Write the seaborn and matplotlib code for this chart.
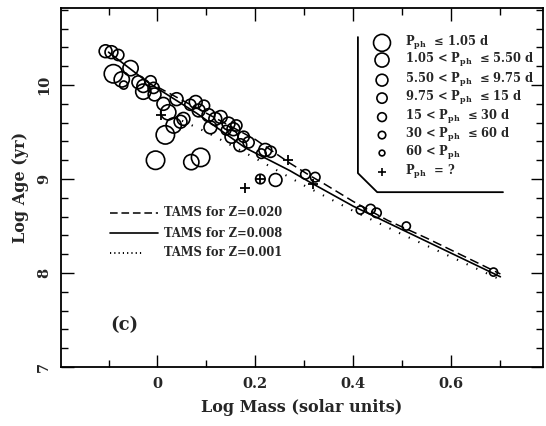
import numpy as np
import pandas as pd
import matplotlib
matplotlib.use("Agg")
import matplotlib.pyplot as plt
import seaborn as sns
from matplotlib.ticker import MultipleLocator

# ---------------- data ----------------
# circles: log mass, log age, period class (1 = shortest period, largest symbol)
circ_x = [-0.106, -0.094, -0.080, -0.090, -0.073, -0.055, -0.069, -0.039, -0.029, -0.014,
          -0.029, -0.006, -0.008,
          0.012, 0.039, 0.022, 0.047, 0.053, 0.033, 0.016, 0.078, 0.084, 0.104,
          0.118, 0.129, 0.108, 0.145, 0.155, 0.161, 0.151, 0.176, 0.186, 0.169,
          0.220, 0.231, 0.212, 0.067, 0.095, 0.140,
          -0.004, 0.069, 0.088, 0.210, 0.241, 0.302, 0.322, 0.414, 0.435, 0.447,
          0.508, 0.686]
circ_y = [10.36, 10.35, 10.32, 10.12, 10.06, 10.18, 10.00, 10.03, 9.99, 10.04,
          9.93, 9.90, 9.97,
          9.80, 9.85, 9.71, 9.61, 9.64, 9.57, 9.47, 9.82, 9.73, 9.68,
          9.64, 9.66, 9.55, 9.59, 9.53, 9.57, 9.45, 9.45, 9.39, 9.36,
          9.31, 9.29, 9.27, 9.79, 9.78, 9.52,
          9.20, 9.18, 9.23, 9.00, 8.99, 9.05, 9.02, 8.67, 8.68, 8.64,
          8.50, 8.01]
circ_cls = [3, 3, 4, 1, 2, 2, 6, 3, 3, 4,
            2, 3, 4,
            3, 3, 2, 3, 3, 2, 1, 3, 3, 3,
            3, 3, 3, 3, 3, 4, 3, 4, 4, 3,
            3, 4, 5, 4, 4, 5,
            1, 2, 1, 5, 3, 5, 5, 6, 5, 5,
            6, 6]

# unknown period (plus signs)
plus_x = [0.008, 0.178, 0.267, 0.318, 0.210]
plus_y = [9.68, 8.91, 9.20, 8.95, 9.00]

# TAMS lines
tams020_x = [0.00, 0.10, 0.20, 0.27, 0.31, 0.34, 0.40, 0.47, 0.55, 0.70]
tams020_y = [9.98, 9.70, 9.42, 9.17, 9.04, 8.95, 8.76, 8.56, 8.37, 7.99]
tams008_x = [-0.10, -0.02, 0.08, 0.18, 0.27, 0.31, 0.40, 0.50, 0.60, 0.70]
tams008_y = [10.35, 10.03, 9.70, 9.33, 9.09, 8.97, 8.71, 8.46, 8.21, 7.96]
tams001_x = [0.05, 0.10, 0.20, 0.30, 0.40, 0.50, 0.60, 0.70]
tams001_y = [9.62, 9.50, 9.22, 8.93, 8.66, 8.41, 8.17, 7.93]

legend_labels = [r"P$_{\rm ph}$  ≤ 1.05 d",
                 r"1.05 < P$_{\rm ph}$  ≤ 5.50 d",
                 r"5.50 < P$_{\rm ph}$  ≤ 9.75 d",
                 r"9.75 < P$_{\rm ph}$  ≤ 15 d",
                 r"15 < P$_{\rm ph}$  ≤ 30 d",
                 r"30 < P$_{\rm ph}$  ≤ 60 d",
                 r"60 < P$_{\rm ph}$",
                 r"P$_{\rm ph}$  = ?"]
line_labels = ["TAMS for Z=0.020", "TAMS for Z=0.008", "TAMS for Z=0.001"]

# ---------------- style ----------------
sns.set_style("ticks")
plt.rcParams['font.family'] = ['DejaVu Serif']
plt.rcParams['font.weight'] = 'bold'
plt.rcParams['mathtext.fontset'] = 'custom'
plt.rcParams['mathtext.rm'] = 'DejaVu Serif:bold'
plt.rcParams['mathtext.it'] = 'DejaVu Serif:bold'
plt.rcParams['mathtext.bf'] = 'DejaVu Serif:bold'

size_map = {1: 175, 2: 120, 3: 85, 4: 64, 5: 47, 6: 34, 7: 20}

fig = plt.figure(figsize=(5.46, 4.26), dpi=100)
ax = fig.add_axes([61/546, 1-367/426, 482/546, 359/426])

df = pd.DataFrame({"x": circ_x, "y": circ_y, "cls": circ_cls})
sns.scatterplot(data=df, x="x", y="y", size="cls", sizes=size_map, marker="o",
                facecolor="none", edgecolor="black", linewidth=1.2,
                legend=False, ax=ax)
dfp = pd.DataFrame({"x": plus_x, "y": plus_y})
sns.scatterplot(data=dfp, x="x", y="y", marker="+", s=55, color="black",
                linewidth=1.3, legend=False, ax=ax)

sns.lineplot(x=tams020_x, y=tams020_y, color="black", lw=1.1,
             linestyle=(0, (6, 3)), ax=ax, sort=False)
sns.lineplot(x=tams008_x, y=tams008_y, color="black", lw=1.2, ax=ax, sort=False)
sns.lineplot(x=tams001_x, y=tams001_y, color="black", lw=1.5,
             linestyle=(0, (0.6, 4.5)), ax=ax, sort=False)

ax.set_xlim(-0.197, 0.787)
ax.set_ylim(7.0, 10.82)
ax.xaxis.set_major_locator(MultipleLocator(0.2))
ax.xaxis.set_minor_locator(MultipleLocator(0.1))
ax.yaxis.set_major_locator(MultipleLocator(1))
ax.yaxis.set_minor_locator(MultipleLocator(0.2))
ax.set_xticks([0, 0.2, 0.4, 0.6])
ax.set_xticklabels(["0", "0.2", "0.4", "0.6"])
ax.set_yticks([7, 8, 9, 10])
ax.set_yticklabels(["7", "8", "9", "10"], rotation=90, va="center")
ax.tick_params(which="both", direction="in", top=True, right=True,
               labelsize=10.5, color="black", width=1.0)
ax.tick_params(which="major", length=9, pad=7)
ax.tick_params(which="minor", length=5)
for sp in ax.spines.values():
    sp.set_visible(True)
    sp.set_linewidth(1.3)
    sp.set_color("black")

ax.set_xlabel("Log Mass (solar units)", fontsize=11.5, fontweight="bold", labelpad=6)
ax.set_ylabel("Log Age (yr)", fontsize=11.5, fontweight="bold", labelpad=6)

# period-class key with bracket
tr = ax.transAxes
ax.plot([0.616, 0.616, 0.656, 0.917], [0.919, 0.540, 0.487, 0.487],
        color="black", lw=1.3, transform=tr, clip_on=False)
rows = [0.903, 0.855, 0.799, 0.749, 0.696, 0.646, 0.596, 0.543]
for i, (ry, lab) in enumerate(zip(rows, legend_labels)):
    if i < 7:
        ax.scatter([0.666], [ry], s=size_map[i + 1] * 0.85, marker="o",
                   facecolor="none", edgecolor="black", linewidth=1.2,
                   transform=tr, clip_on=False)
    else:
        ax.scatter([0.666], [ry], s=30, marker="+", color="black",
                   linewidth=1.2, transform=tr, clip_on=False)
    ax.text(0.714, ry, lab, transform=tr, fontsize=8.3, fontweight="bold",
            va="center", ha="left")

# line key
lrows = [0.429, 0.373, 0.318]
styles = [dict(linestyle=(0, (5, 2.5)), lw=1.1),
          dict(linestyle="-", lw=1.2),
          dict(linestyle=(0, (0.6, 1.6)), lw=1.4)]
ends = [0.201, 0.201, 0.172]
for ry, lab, st, xe in zip(lrows, line_labels, styles, ends):
    ax.plot([0.102, xe], [ry, ry], color="black", transform=tr, **st)
    ax.text(0.214, ry, lab, transform=tr, fontsize=8.3, fontweight="bold",
            va="center", ha="left")

ax.text(0.103, 0.117, "(c)", transform=tr, fontsize=13, fontweight="bold",
        va="center", ha="left")

fig.savefig("out.png", dpi=100, facecolor="white")
